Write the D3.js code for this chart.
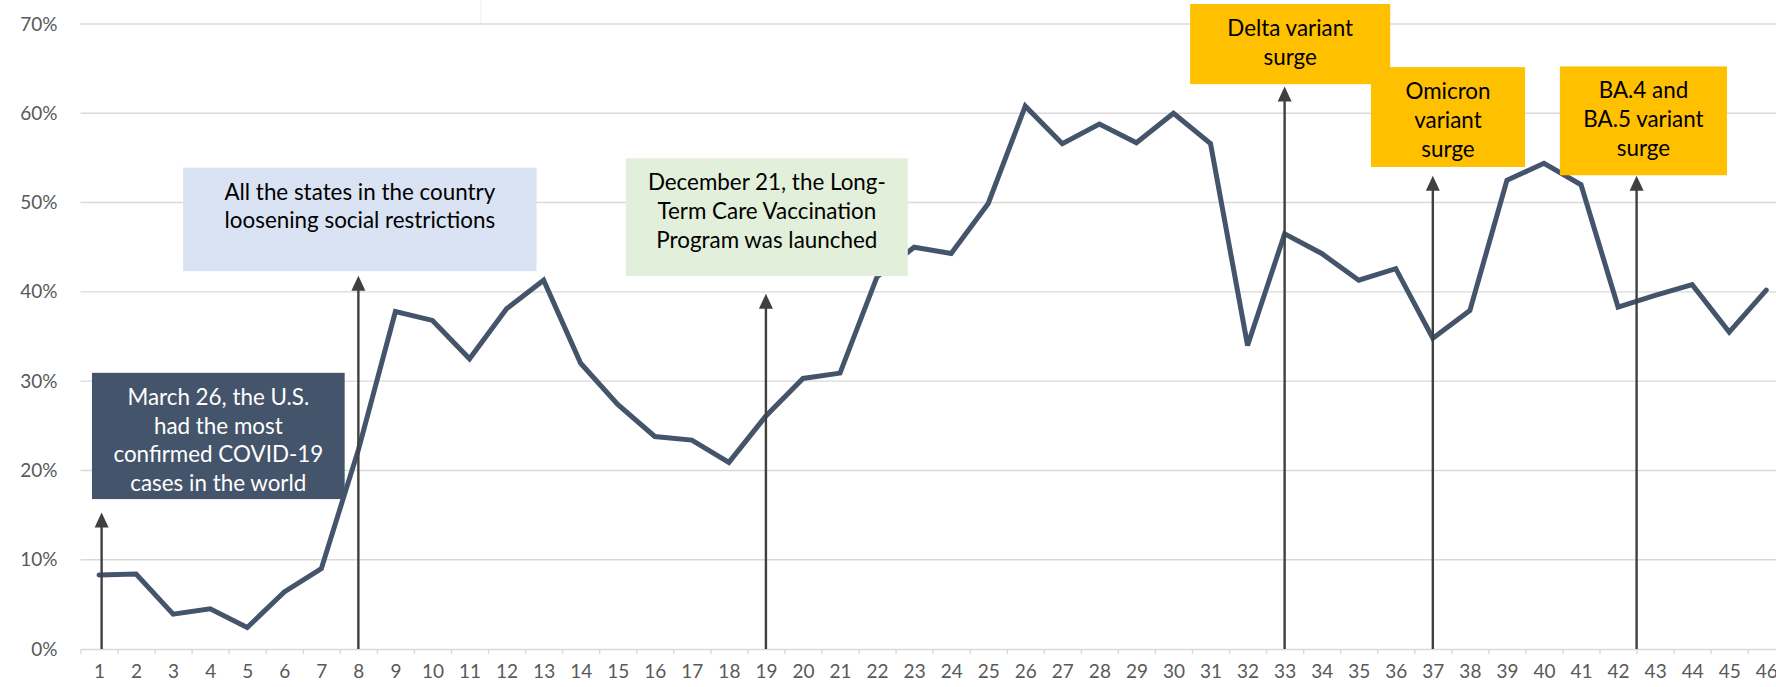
<!DOCTYPE html>
<html>
<head>
<meta charset="utf-8">
<script src="https://cdn.jsdelivr.net/npm/d3@7"></script>
<style>
  html, body { margin: 0; padding: 0; background: #fff; }
  svg { display: block; }
</style>
</head>
<body>
<svg id="chart" width="1776" height="687"></svg>
<script>
// ---- DATA ----
const weeks = [1,2,3,4,5,6,7,8,9,10,11,12,13,14,15,16,17,18,19,20,21,22,23,24,25,26,27,28,29,30,31,32,33,34,35,36,37,38,39,40,41,42,43,44,45,46];
const shareValues = [8.3,8.4,3.9,4.5,2.4,6.4,9.0,22.3,37.8,36.8,32.5,38.1,41.3,32.0,27.4,23.8,23.4,20.9,26.1,30.3,30.9,41.7,45.0,44.3,49.9,60.8,56.6,58.8,56.7,60.0,56.6,34.0,46.5,44.3,41.3,42.6,34.8,37.9,52.5,54.4,52.0,38.3,39.6,40.8,35.5,40.2];
const yTicks = [0,10,20,30,40,50,60,70];

const noteTexts = [
  ["March 26, the U.S.", "had the most", "confirmed COVID-19", "cases in the world"],
  ["All the states in the country", "loosening social restrictions"],
  ["December 21, the Long-", "Term Care Vaccination", "Program was launched"],
  ["Delta variant", "surge"],
  ["Omicron", "variant", "surge"],
  ["BA.4 and", "BA.5 variant", "surge"]
];
const noteWeeks = [1.07, 8, 19, 33, 37, 42.5];     // where each arrow points on the week axis
const noteArrowTips = [15.3, 41.8, 39.8, 63.0, 53.0, 53.0]; // arrow tip height (%)

// ---- LAYOUT / STYLE ----
const W = 1776, H = 687;
const left = 80.5, band = 37.05;
const x = d3.scaleLinear().domain([0.5, weeks.length + 0.5]).range([left, left + band * weeks.length]);
const y = d3.scaleLinear().domain([0, 70]).range([649, 24]);

// boxes in data units: [week from, week to, % top, % bottom]
const noteBoxes = [
  [0.81, 7.63, 30.93, 16.79],
  [3.27, 12.81, 53.92, 42.32],
  [15.22, 22.83, 54.96, 41.76],
  [30.45, 35.85, 72.24, 63.26],
  [35.33, 39.49, 65.17, 53.99],
  [40.43, 44.94, 65.25, 53.06]
];
const noteFills = ["#44546A", "#DAE3F3", "#E2EFDA", "#FFC000", "#FFC000", "#FFC000"];
const noteTextColors = ["#ffffff", "#000000", "#000000", "#000000", "#000000", "#000000"];

const FONT = "Lato, 'Noto Sans', sans-serif";
const svg = d3.select("#chart");

// faint artifact line at top
svg.append("line").attr("x1", 481).attr("x2", 481).attr("y1", 0).attr("y2", 24)
  .attr("stroke", "#eeeeee").attr("stroke-width", 1);

// gridlines
svg.append("g").selectAll("line").data(yTicks.filter(d => d > 0)).join("line")
  .attr("x1", left).attr("x2", W)
  .attr("y1", d => y(d)).attr("y2", d => y(d))
  .attr("stroke", "#D9D9D9").attr("stroke-width", 1.4);

// x axis line + tick marks between categories
const xAxisG = svg.append("g").attr("transform", `translate(0,${y(0)})`);
xAxisG.call(d3.axisBottom(x).tickValues(d3.range(0.5, weeks.length + 1, 1)).tickFormat("").tickSize(5).tickSizeOuter(0));
xAxisG.select(".domain").attr("stroke", "#D9D9D9").attr("stroke-width", 1.4);
xAxisG.selectAll(".tick line").attr("stroke", "#D9D9D9").attr("stroke-width", 1.4);

// x labels
const xLab = svg.append("g").attr("transform", `translate(0,${y(0)})`);
xLab.call(d3.axisBottom(x).tickValues(weeks).tickFormat(d => d).tickSize(0).tickPadding(16));
xLab.select(".domain").remove();
xLab.selectAll("text").attr("font-family", FONT).attr("font-size", 19).attr("fill", "#595959");

// y labels
const yLab = svg.append("g").attr("transform", `translate(${left},0)`);
yLab.call(d3.axisLeft(y).tickValues(yTicks).tickFormat(d => d + "%").tickSize(0).tickPadding(23));
yLab.select(".domain").remove();
yLab.selectAll("text").attr("font-family", FONT).attr("font-size", 19).attr("fill", "#595959");

// data line
const line = d3.line().x((d, i) => x(weeks[i])).y(d => y(d));
svg.append("path").datum(shareValues)
  .attr("d", line)
  .attr("fill", "none")
  .attr("stroke", "#44546A")
  .attr("stroke-width", 5)
  .attr("stroke-linejoin", "miter")
  .attr("stroke-linecap", "round");

// boxes with text
noteTexts.forEach((lines, i) => {
  const [w0, w1, ptop, pbot] = noteBoxes[i];
  const bx = x(w0), bw = x(w1) - x(w0), by = y(ptop), bh = y(pbot) - y(ptop);
  const g = svg.append("g");
  g.append("rect").attr("x", bx).attr("y", by).attr("width", bw).attr("height", bh)
    .attr("fill", noteFills[i]);
  const t = g.append("text").attr("text-anchor", "middle")
    .attr("font-family", FONT).attr("font-size", 22.4).attr("fill", noteTextColors[i]);
  lines.forEach((s, k) => {
    t.append("tspan").attr("x", bx + bw / 2).attr("y", by + 32 + k * 28.7).text(s);
  });
});

// arrows: shaft + triangular head
const arrows = svg.append("g");
noteWeeks.forEach((wk, i) => {
  const ax = x(wk), tip = y(noteArrowTips[i]);
  arrows.append("line")
    .attr("x1", ax).attr("x2", ax).attr("y1", y(0)).attr("y2", tip + 10)
    .attr("stroke", "#404040").attr("stroke-width", 2.4);
  const p = d3.path();
  p.moveTo(ax, tip); p.lineTo(ax + 7, tip + 15); p.lineTo(ax - 7, tip + 15); p.closePath();
  arrows.append("path").attr("d", p.toString()).attr("fill", "#404040");
});
</script>
</body>
</html>
